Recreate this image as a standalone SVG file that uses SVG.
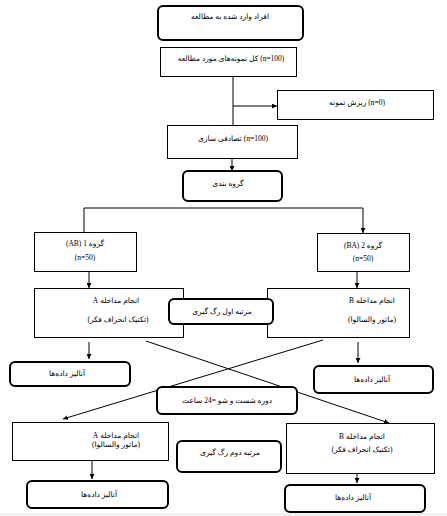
<svg xmlns="http://www.w3.org/2000/svg" width="447" height="516" viewBox="0 0 447 516">
<style>
.bx{fill:#fff;stroke:#000;stroke-width:1}
.rb{fill:#fff;stroke:#000;stroke-width:2}
.ln{fill:none;stroke:#000;stroke-width:1}
text{font-family:"Liberation Serif","DejaVu Sans",serif;font-size:7.5px;fill:#000;text-anchor:middle;direction:rtl;unicode-bidi:embed}
</style>
<defs>
<marker id="ah" viewBox="0 0 10 10" refX="10" refY="5" markerWidth="5" markerHeight="5" orient="auto" markerUnits="userSpaceOnUse">
<path d="M0,0 L10,5 L0,10 z" fill="#000"/>
</marker>
</defs>
<rect x="0" y="0" width="447" height="516" fill="#fff"/>
<rect x="0" y="513" width="447" height="3" fill="#f0f0f0"/>
<g id="connectors">
<path class="ln" d="M233,76 V126"/>
<path class="ln" d="M233,106 H277" marker-end="url(#ah)"/>
<path class="ln" d="M232,158 V171" marker-end="url(#ah)"/>
<path class="ln" d="M84,232 V208 H363 V233" marker-end="url(#ah)"/>
<path class="ln" d="M89,271 V288" marker-end="url(#ah)"/>
<path class="ln" d="M357,271 V288" marker-end="url(#ah)"/>
<path class="ln" d="M89,342 V359" marker-end="url(#ah)"/>
<path class="ln" d="M358,342 V363" marker-end="url(#ah)"/>
<path class="ln" d="M146,341 L389,423" marker-end="url(#ah)"/>
<path class="ln" d="M323,340 L63,419" marker-end="url(#ah)"/>
<path class="ln" d="M92,460 V479" marker-end="url(#ah)"/>
<path class="ln" d="M357,473 V483" marker-end="url(#ah)"/>
</g>
<g id="n1"><rect class="rb" x="158" y="6" width="145" height="34" rx="5"/><text x="230" y="19">افراد وارد شده به مطالعه</text></g>
<g id="n2"><rect class="bx" x="160.5" y="47.5" width="136" height="29"/><text x="231" y="61">(n=100) کل نمونه‌های مورد مطالعه</text></g>
<g id="n3"><rect class="bx" x="277.5" y="90.5" width="156" height="29"/><text x="357" y="105">(n=0) ریزش نمونه</text></g>
<g id="n4"><rect class="bx" x="167.5" y="125.5" width="130" height="33"/><text x="233" y="141">(n=100) تصادفی سازی</text></g>
<g id="n5"><rect class="rb" x="183" y="171" width="99" height="30" rx="5"/><text x="228" y="186">گروه بندی</text></g>
<g id="n6"><rect class="bx" x="34.5" y="232.5" width="102" height="39"/><text x="85" y="246">گروه 1 (AB)</text><text x="85" y="260">(n=50)</text></g>
<g id="n7"><rect class="bx" x="317.5" y="233.5" width="92" height="38"/><text x="363" y="248">گروه 2 (BA)</text><text x="363" y="261">(n=50)</text></g>
<g id="n8"><rect class="bx" x="34.5" y="288.5" width="149" height="49"/><text x="116" y="303">انجام مداخله A</text><text x="118" y="322">(تکنیک انحراف فکر)</text></g>
<g id="n9"><rect class="bx" x="267.5" y="288.5" width="142" height="49"/><text x="372" y="303">انجام مداخله B</text><text x="372" y="322">(ماتور والسالوا)</text></g>
<g id="n10"><rect class="rb" x="169" y="299" width="104" height="25" rx="5"/><text x="222" y="314">مرتبه اول رگ گیری</text></g>
<g id="n11"><rect class="rb" x="10" y="362" width="120" height="24" rx="5"/><text x="67" y="376">آنالیز داده‌ها</text></g>
<g id="n12"><rect class="rb" x="314" y="366" width="119" height="27" rx="5"/><text x="372" y="382">آنالیز داده‌ها</text></g>
<g id="n13"><rect class="rb" x="157" y="387" width="140" height="27" rx="5"/><text x="227" y="403">دوره شست و شو =24 ساعت</text></g>
<g id="n14"><rect class="bx" x="12.5" y="422.5" width="156" height="38"/><text x="116" y="438">انجام مداخله A</text><text x="116" y="447">(ماتور والسالوا)</text></g>
<g id="n15"><rect class="bx" x="286.5" y="423.5" width="148" height="50"/><text x="362" y="439">انجام مداخله B</text><text x="362" y="452">(تکنیک انحراف فکر)</text></g>
<g id="n16"><rect class="rb" x="177" y="441" width="104" height="31" rx="5"/><text x="230" y="455">مرتبه دوم رگ گیری</text></g>
<g id="n17"><rect class="rb" x="27" y="481" width="141" height="27" rx="5"/><text x="99" y="497">آنالیز داده‌ها</text></g>
<g id="n18"><rect class="rb" x="285" y="485" width="140" height="27" rx="5"/><text x="353" y="500">آنالیز داده‌ها</text></g>
</svg>
